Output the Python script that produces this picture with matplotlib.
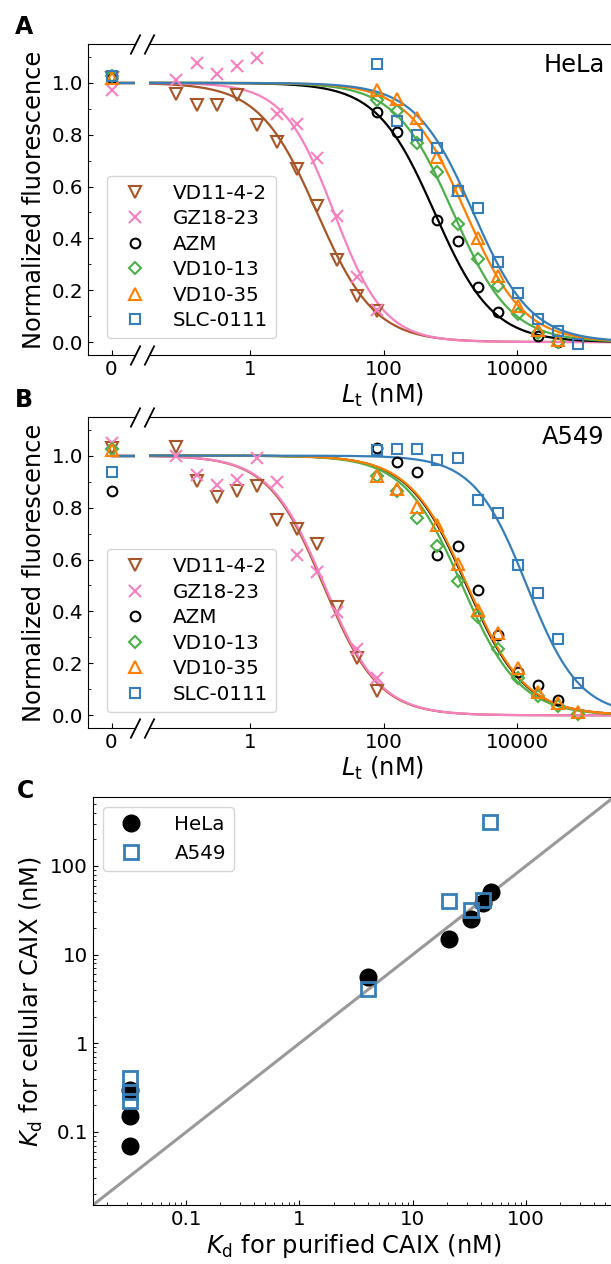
import numpy as np
import matplotlib
matplotlib.use('Agg')
import matplotlib.pyplot as plt
from matplotlib.ticker import FixedLocator, MultipleLocator, FuncFormatter, LogLocator, NullLocator

plt.rcParams['font.family'] = 'DejaVu Sans'
plt.rcParams['mathtext.fontset'] = 'dejavusans'

W, H = 611, 1264
TICK_FS = 14.3
LABEL_FS = 17.4

names = ['VD11-4-2', 'GZ18-23', 'AZM', 'VD10-13', 'VD10-35', 'SLC-0111']
colors = ['#a65628', '#f781bf', 'black', '#4daf4a', '#ff7f00', '#377eb8']
markers = ['v', 'x', 'o', 'D', '^', 's']
msizes = [8, 8, 7, 6, 8, 7]

# two-fold dilution series (nM)
conc_low = [0.078125, 0.15625, 0.3125, 0.625, 1.25, 2.5, 5, 10, 20, 40, 80]
conc_high = [80, 160, 320, 640, 1280, 2560, 5120, 10240, 20480, 40960, 81920]
conc_sets = [conc_low, conc_low, conc_high, conc_high, conc_high, conc_high]

nan = np.nan
# HeLa normalized fluorescence
hela_zero = [1.02, 0.974, 1.02, 1.026, 1.02, 1.026]
hela_vd11 = [0.959, 0.913, 0.916, 0.955, 0.839, 0.770, 0.668, 0.524, 0.315, 0.179, 0.118]
hela_gz18 = [1.013, 1.077, 1.036, 1.064, 1.097, 0.878, 0.843, 0.710, 0.485, 0.251, 0.125]
hela_azm = [0.888, 0.809, nan, 0.469, 0.388, 0.211, 0.114, nan, 0.022, 0.002, nan]
hela_vd13 = [0.932, 0.890, 0.768, 0.655, 0.457, 0.320, 0.215, 0.109, 0.035, 0.002, nan]
hela_vd35 = [0.974, 0.936, 0.865, 0.714, 0.588, 0.402, 0.256, 0.140, 0.047, 0.006, nan]
hela_slc = [1.073, 0.854, 0.800, 0.749, 0.581, 0.517, 0.309, 0.189, 0.089, 0.041, -0.007]
hela_ic50 = [10, 18, 580, 1100, 1700, 2200]
hela_hill = [1.0, 1.15, 1.0, 1.0, 1.0, 1.0]

# A549 normalized fluorescence
a549_zero = [1.03, 1.049, 0.865, 1.026, 1.02, 0.937]
a549_vd11 = [1.034, 0.901, 0.840, 0.862, 0.884, 0.753, 0.717, 0.660, 0.418, 0.219, 0.094]
a549_gz18 = [1.000, 0.927, 0.888, 0.907, 0.991, 0.897, 0.618, 0.553, 0.399, 0.254, 0.142]
a549_azm = [1.03, 0.974, 0.936, 0.618, 0.653, 0.483, 0.309, 0.167, 0.116, 0.058, nan]
a549_vd13 = [0.923, 0.862, 0.759, 0.653, 0.519, 0.380, 0.257, 0.142, 0.073, 0.035, 0.004]
a549_vd35 = [0.920, 0.871, 0.804, 0.734, 0.583, 0.405, 0.318, 0.184, 0.090, 0.048, 0.013]
a549_slc = [1.023, 1.026, 1.026, 0.982, 0.991, 0.830, 0.779, 0.579, 0.472, 0.292, 0.125]
a549_ic50 = [12.5, 13, 1750, 1500, 1800, 14000]
a549_hill = [1.05, 1.05, 1.0, 1.0, 1.0, 1.1]

# panel C: Kd (nM)
hela_kd_pure = [0.032, 0.032, 0.032, 4.0, 21, 32.5, 41.5, 49]
hela_kd_cell = [0.07, 0.15, 0.30, 5.6, 15, 25, 38, 51]
a549_kd_pure = [0.032, 0.032, 0.032, 4.0, 21, 32.5, 41.5, 48]
a549_kd_cell = [0.41, 0.28, 0.225, 4.06, 40, 32, 41, 310]


def fx(px):
    return px / W


def fy(py):
    return 1 - py / H


fig = plt.figure(figsize=(W / 100, H / 100), dpi=100)


def titration_panel(top, bot, zero, series, ic50, hill, cell, legend_bottom):
    h = (bot - top) / H
    axL = fig.add_axes([fx(88), fy(bot), fx(135) - fx(88), h])
    axR = fig.add_axes([fx(148.7), fy(bot), fx(615.6) - fx(148.7), h], sharey=axL)
    axL.set_xlim(-1, 1)
    axR.set_xscale('log')
    axR.set_xlim(0.03, 3e5)
    axL.set_ylim(-0.05, 1.15)

    xfit = np.logspace(np.log10(0.03), np.log10(3e5), 500)
    for i in range(6):
        c = colors[i]
        axL.plot([0, 1], [1, 1], color=c, lw=1.6, zorder=2)
        yfit = 1 / (1 + (xfit / ic50[i]) ** hill[i])
        axR.plot(xfit, yfit, color=c, lw=1.6, zorder=2)
    for i in range(6):
        c = colors[i]
        kw = dict(linestyle='none', marker=markers[i], ms=msizes[i], mfc='none',
                  mec=c, mew=1.5, zorder=3)
        axL.plot([0], [zero[i]], **kw)
        axR.plot(conc_sets[i], series[i], label=names[i], **kw)

    axL.spines['right'].set_visible(False)
    axR.spines['left'].set_visible(False)
    axL.xaxis.set_major_locator(FixedLocator([0]))
    axL.set_xticklabels(['0'])
    axL.yaxis.set_major_locator(MultipleLocator(0.2))
    axL.yaxis.set_minor_locator(MultipleLocator(0.1))
    axL.tick_params(which='both', direction='in', labelsize=TICK_FS, right=False)
    axR.xaxis.set_major_locator(FixedLocator([1, 100, 10000]))
    axR.xaxis.set_minor_locator(NullLocator())
    axR.set_xticklabels(['1', '100', '10000'])
    axR.tick_params(axis='x', direction='in', labelsize=TICK_FS)
    axR.tick_params(axis='y', which='major', direction='in', left=False, right=True,
                    labelleft=False)
    axR.tick_params(axis='y', which='minor', left=False, right=False)

    slash = dict(marker=[(-0.5, -1), (0.5, 1)], markersize=14.4, linestyle='none',
                 color='k', mec='k', mew=1.3, clip_on=False)
    axL.plot([1, 1], [0, 1], transform=axL.transAxes, **slash)
    axR.plot([0, 0], [0, 1], transform=axR.transAxes, **slash)

    axL.set_ylabel('Normalized fluorescence', fontsize=LABEL_FS)
    axR.set_xlabel(r'$L_\mathrm{t}$ (nM)', fontsize=LABEL_FS, labelpad=2)
    axR.text(0.977, 0.972, cell, transform=axR.transAxes, ha='right', va='top',
             fontsize=LABEL_FS)
    axR.legend(loc='lower left', bbox_to_anchor=(fx(107), fy(legend_bottom)),
               bbox_transform=fig.transFigure, borderaxespad=0, fontsize=TICK_FS,
               labelspacing=0.33, handletextpad=0.9)
    return axL, axR


titration_panel(44, 355, hela_zero,
                [hela_vd11, hela_gz18, hela_azm, hela_vd13, hela_vd35, hela_slc],
                hela_ic50, hela_hill, 'HeLa', 338.3)
titration_panel(416.7, 728.3, a549_zero,
                [a549_vd11, a549_gz18, a549_azm, a549_vd13, a549_vd35, a549_slc],
                a549_ic50, a549_hill, 'A549', 711.7)

# panel C
axC = fig.add_axes([fx(93), fy(1205), fx(614) - fx(93), (1205 - 797) / H])
lims = [0.015, 600]
axC.set_xscale('log')
axC.set_yscale('log')
axC.set_xlim(lims)
axC.set_ylim(lims)
axC.plot(lims, lims, color='#999999', lw=2.2, zorder=1)
axC.plot(hela_kd_pure, hela_kd_cell, linestyle='none', marker='o', ms=12,
         color='black', label='HeLa', zorder=2)
axC.plot(a549_kd_pure, a549_kd_cell, linestyle='none', marker='s', ms=10,
         mfc='none', mec='#377eb8', mew=2, label='A549', zorder=3)
fmt = FuncFormatter(lambda v, p: '%g' % v)
for axis in (axC.xaxis, axC.yaxis):
    axis.set_major_locator(LogLocator(base=10, numticks=20))
    axis.set_minor_locator(LogLocator(base=10, subs=np.arange(2, 10), numticks=20))
    axis.set_major_formatter(fmt)
axC.tick_params(which='both', direction='in', labelsize=TICK_FS)
axC.set_xlabel(r'$K_\mathrm{d}$ for purified CAIX (nM)', fontsize=LABEL_FS, labelpad=2)
axC.set_ylabel(r'$K_\mathrm{d}$ for cellular CAIX (nM)', fontsize=LABEL_FS)
axC.legend(loc='upper left', fontsize=TICK_FS, handletextpad=1.2)

for lab, x, y in [('A', 24, 26.7), ('B', 24, 400), ('C', 25, 790.5)]:
    fig.text(fx(x), fy(y), lab, fontsize=17, fontweight='bold', ha='center', va='center')

fig.savefig('out.png', dpi=100)
